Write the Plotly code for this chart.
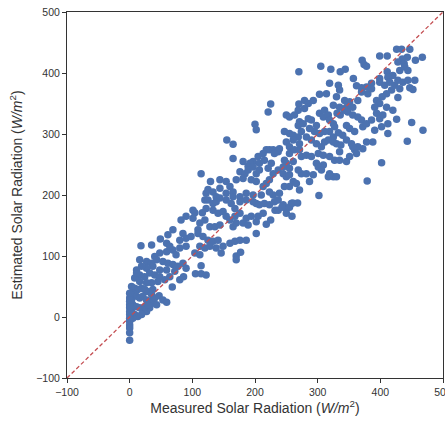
import plotly.graph_objects as go

# Measured (x) vs estimated (y) solar radiation, W/m^2
measured = [
    426, 434, 447, 399, 411, 456, 467, 443, 435, 428, 438, 371, 374, 378, 270, 305, 321, 336, 344, 357,
    411, 431, 439, 444, 420, 412, 399,
    362, 370, 378, 386, 399, 407, 415, 423, 428, 436, 444, 418, 410, 403, 394, 399, 428, 431, 333, 335,
    319, 314, 303, 330, 343, 351, 364, 370, 380, 386, 391, 410, 420, 447, 452, 455, 346, 356, 279, 285,
    270, 269, 279, 293, 225, 325, 335,
    221, 250, 255, 263, 271, 269, 277, 285, 290, 303, 311, 309, 317, 319, 325, 331, 336, 343, 348, 356,
    364, 370, 327, 319, 311, 303, 295, 287, 298, 346, 351, 372, 378, 386, 394, 399, 404, 391, 402, 412,
    426, 450, 468, 412, 200, 202, 255, 261, 269, 274, 247, 333, 340, 359, 325,
    155, 165, 282, 290, 298, 306, 311, 317, 325, 330, 337, 346, 354, 364, 378, 388, 443, 271, 261, 250,
    255, 239, 218, 223, 229, 237, 213, 205, 197, 207, 215, 226, 231, 255, 263, 271, 274, 282, 290, 301,
    309, 319, 327, 335, 346, 351, 359, 362, 335, 165, 181, 189, 192, 247, 250, 261, 298, 309, 402, 372, 356,
    114, 129, 125, 122, 133, 144, 154, 160, 165, 170, 176, 184, 189, 197, 202, 207, 194, 202, 213, 218,
    223, 229, 237, 245, 250, 255, 261, 266, 274, 282, 287, 293, 301, 306, 317, 325, 330, 271, 255, 247,
    239, 229, 223, 210, 197, 186, 176, 165, 154, 144, 138, 302, 379, 319, 269, 255, 245, 221, 181,
    120, 125, 133, 138, 144, 154, 162, 168, 176, 186, 197, 202, 207, 215, 223, 231, 237, 245, 250, 258,
    101, 104, 116, 122, 133, 141, 149, 154, 160, 168, 176, 186, 194, 202, 205, 213, 218, 225, 232, 237,
    243, 255, 260, 268, 259, 250, 181, 189, 112, 120, 101, 90, 82, 109, 128, 136, 144, 165, 170,
    69, 85, 61, 49, 35, 18, 80, 90, 98, 109, 117, 125, 133, 141, 149, 160, 168, 176, 186, 202,
    112, 120, 128, 90, 80, 69, 59, 48, 40, 74, 104, 112, 138, 146, 170, 177, 170, 59, 64,
    16, 27, 35, 43, 53, 61, 69, 77, 85, 59, 48, 37, 27, 19, 11, 16, 24, 32, 40, 48,
    56, 64, 72, 80, 86, 105, 114, 122, 114, 90, 45, 35, 27, 16, 8, 11, 68,
    3, 8, 13, 19, 24, 29, 37, 47, 53, 59, 5, 11, 16, 21, 27, 32, 37, 43, 3, 5,
    11, 16, 21, 27, 32, 3, 8, 13, 19, 24, 29, 35, 40, 3, 5,
    0, 0, 0, 0, 0, 0, 0, 0, 0, 0, 0, 0, 0, 1, 1, 1, 1,
]
estimated = [
    439, 439, 439, 428, 428, 421, 426, 426, 423, 418, 415, 421, 414, 411, 402, 411, 406, 402, 406, 391,
    402, 404, 410, 404, 396, 393, 391,
    379, 376, 377, 383, 385, 380, 385, 380, 388, 385, 388, 372, 366, 361, 355, 350, 360, 374, 380, 372,
    383, 366, 365, 361, 355, 353, 355, 369, 366, 374, 344, 344, 339, 376, 373, 388, 344, 344, 355, 350,
    349, 339, 342, 355, 349, 347, 344,
    336, 331, 328, 331, 320, 314, 317, 325, 323, 334, 339, 328, 331, 323, 317, 334, 331, 339, 336, 331,
    328, 323, 312, 304, 304, 301, 304, 309, 314, 314, 309, 312, 317, 323, 334, 325, 331, 306, 312, 317,
    324, 319, 306, 301, 316, 307, 301, 298, 295, 304, 304, 302, 298, 304, 295,
    290, 283, 295, 290, 284, 279, 287, 290, 287, 284, 282, 290, 284, 279, 287, 287, 288, 284, 290, 287,
    279, 276, 274, 274, 274, 271, 268, 263, 255, 252, 257, 252, 268, 268, 274, 274, 263, 265, 263, 268,
    265, 263, 257, 257, 255, 263, 274, 268, 271, 260, 255, 247, 252, 257, 252, 255, 252, 249, 253, 276, 279,
    235, 222, 209, 203, 205, 225, 222, 214, 205, 225, 238, 235, 241, 246, 235, 241, 225, 222, 214, 219,
    225, 235, 241, 235, 230, 233, 222, 219, 235, 235, 222, 233, 246, 241, 230, 230, 230, 208, 214, 214,
    203, 200, 205, 200, 200, 203, 197, 197, 203, 211, 197, 199, 223, 235, 241, 244, 246, 244, 227,
    192, 192, 186, 189, 195, 192, 186, 178, 189, 192, 189, 186, 184, 186, 184, 189, 192, 184, 178, 186,
    175, 171, 171, 178, 175, 170, 173, 165, 159, 165, 170, 162, 165, 156, 165, 170, 152, 159, 175, 175,
    180, 180, 187, 187, 165, 170, 154, 151, 154, 159, 162, 165, 159, 143, 148, 148, 151, 148, 154,
    143, 137, 135, 128, 118, 117, 126, 129, 132, 137, 132, 126, 124, 126, 116, 121, 124, 126, 126, 137,
    116, 113, 116, 116, 113, 110, 107, 105, 99, 102, 105, 102, 113, 105, 100, 106, 94, 121, 116,
    94, 91, 88, 94, 91, 88, 86, 83, 88, 77, 77, 83, 80, 83, 77, 69, 66, 72, 69, 66,
    61, 66, 75, 61, 66, 71, 71, 69, 84, 80, 58, 56, 56, 58, 64, 72, 49,
    50, 47, 45, 47, 45, 42, 45, 35, 28, 24, 39, 34, 31, 34, 28, 26, 23, 20, 28, 20,
    17, 15, 12, 9, 15, 9, 4, 1, 4, 17, 20, 37, 31, 1, -2,
    39, 31, 26, 20, 15, 9, 4, -2, -7, -13, -18, -26, -38, -4, 7, 17, 28,
]

identity_range = [-100, 500]
tick_values = [-100, 0, 100, 200, 300, 400, 500]
tick_labels = ["\u2212100", "0", "100", "200", "300", "400", "500"]

FONT = "Liberation Sans, Arial, sans-serif"

fig = go.Figure()
fig.add_trace(go.Scatter(
    x=measured, y=estimated, mode="markers",
    marker=dict(color="#4c72b0", size=7.5, line=dict(width=0)),
    showlegend=False,
))
fig.add_trace(go.Scatter(
    x=identity_range, y=identity_range, mode="lines",
    line=dict(color="#c44e52", width=1.3, dash="4px,2.5px"),
    showlegend=False,
))

axis_common = dict(
    range=identity_range, tickmode="array", tickvals=tick_values, ticktext=tick_labels,
    showgrid=False, zeroline=False, showline=True, linecolor="#333333", linewidth=1.1,
    mirror=True, ticks="outside", ticklen=4, tickwidth=1, tickcolor="#333333",
    ticklabeloverflow="allow",
    tickfont=dict(family=FONT, size=10.5, color="#333333"),
)
fig.update_xaxes(**axis_common,
                 title=dict(text="Measured Solar Radiation (<i>W/m</i><sup>2</sup>)",
                            font=dict(family=FONT, size=14, color="#333333"),
                            standoff=6))
fig.update_yaxes(**axis_common,
                 title=dict(text="Estimated Solar Radiation (<i>W/m</i><sup>2</sup>)",
                            font=dict(family=FONT, size=14, color="#333333"),
                            standoff=10))
fig.update_layout(
    width=445, height=421,
    margin=dict(l=67, r=2, t=12, b=43, autoexpand=False),
    plot_bgcolor="white", paper_bgcolor="white",
)
fig.write_html(
    "out.html",
    config={"displayModeBar": False},
    post_script="document.body.style.margin='0px';document.body.style.overflow='hidden';",
)
